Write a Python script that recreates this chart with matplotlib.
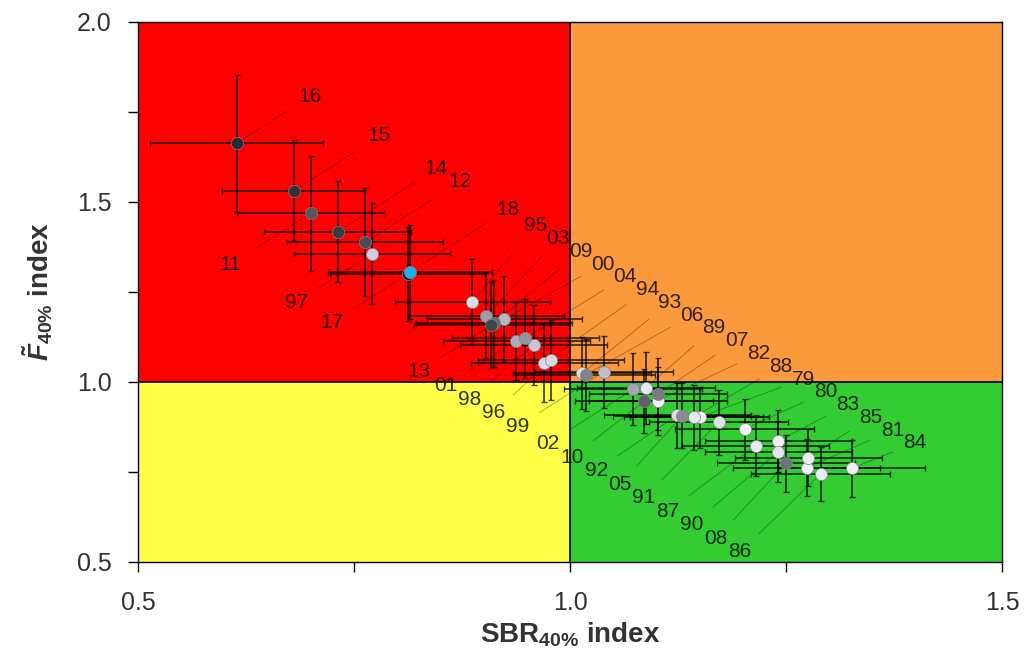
import numpy as np
import matplotlib
matplotlib.use("Agg")
import matplotlib.pyplot as plt
from matplotlib.patches import Rectangle

plt.rcParams['font.family'] = ['Liberation Sans', 'DejaVu Sans']
plt.rcParams['mathtext.fontset'] = 'custom'
plt.rcParams['mathtext.rm'] = 'Liberation Sans:bold'
plt.rcParams['mathtext.bf'] = 'Liberation Sans:bold'
plt.rcParams['mathtext.it'] = 'Liberation Sans:bold:italic'

# ---------------- data ----------------
years = list(range(1979, 2019))
labels = [f"{y % 100:02d}" for y in years]
sbr = [1.150, 1.202, 1.274, 1.102, 1.241, 1.326, 1.276, 1.290, 1.215, 1.143,
       1.088, 1.241, 1.172, 1.124, 1.014, 0.970, 0.887, 0.978, 0.771, 0.958,
       1.039, 0.924, 0.938, 1.073, 0.903, 0.948, 1.130, 1.018, 1.102, 1.250,
       0.912, 1.086, 0.700, 0.763, 0.909, 0.731, 0.680, 0.614, 0.812, 0.815]
fidx = [0.902, 0.869, 0.762, 0.948, 0.836, 0.760, 0.790, 0.744, 0.823, 0.902,
        0.984, 0.806, 0.888, 0.908, 1.024, 1.054, 1.223, 1.061, 1.356, 1.103,
        1.029, 1.175, 1.115, 0.980, 1.183, 1.121, 0.906, 1.020, 0.967, 0.774,
        1.163, 0.947, 1.469, 1.388, 1.158, 1.418, 1.531, 1.663, 1.300, 1.306]
sbr_err = [0.080, 0.080, 0.085, 0.080, 0.085, 0.085, 0.085, 0.080, 0.085, 0.080,
           0.080, 0.085, 0.080, 0.085, 0.080, 0.085, 0.090, 0.085, 0.090, 0.085,
           0.080, 0.090, 0.085, 0.080, 0.090, 0.085, 0.080, 0.080, 0.080, 0.080,
           0.090, 0.080, 0.085, 0.090, 0.090, 0.085, 0.083, 0.100, 0.090, 0.095]
f_err = [0.085, 0.085, 0.080, 0.095, 0.085, 0.080, 0.080, 0.075, 0.085, 0.090,
         0.100, 0.085, 0.090, 0.090, 0.100, 0.110, 0.120, 0.110, 0.140, 0.110,
         0.100, 0.120, 0.110, 0.100, 0.120, 0.110, 0.090, 0.100, 0.100, 0.080,
         0.120, 0.090, 0.160, 0.150, 0.120, 0.140, 0.140, 0.190, 0.130, 0.130]
upper_labels = ["16", "15", "14", "12", "18", "95", "03", "00", "09", "04", "94",
                "06", "93", "89", "07", "82", "88", "79", "80", "83", "85", "81", "84"]
x_ticks = [0.5, 1.0, 1.5]
y_ticks = [0.5, 1.0, 1.5, 2.0]

# ---------------- figure ----------------
fig = plt.figure(figsize=(10.24, 6.58), dpi=100)
ax = fig.add_axes([0.1348, 0.1459, 0.8437, 0.8207])
ax.set_xlim(0.5, 1.5)
ax.set_ylim(0.5, 2.0)

# quadrant backgrounds
ax.add_patch(Rectangle((0.5, 1.0), 0.5, 1.0, color='#FF0000', zorder=0, lw=0))
ax.add_patch(Rectangle((1.0, 1.0), 0.5, 1.0, color='#FA9A3C', zorder=0, lw=0))
ax.add_patch(Rectangle((0.5, 0.5), 0.5, 0.5, color='#FFFF48', zorder=0, lw=0))
ax.add_patch(Rectangle((1.0, 0.5), 0.5, 0.5, color='#33CC33', zorder=0, lw=0))
ax.axvline(1.0, color='black', lw=1.2, zorder=1)
ax.axhline(1.0, color='black', lw=1.2, zorder=1)


def shade(y):
    if y == 2018:
        return '#1CB0F0'
    g = float(np.interp(y, [1979, 1996, 2005, 2017], [0.97, 0.85, 0.55, 0.12]))
    return (g, g, min(1.0, g + 0.04))


# error bars
ax.errorbar(sbr, fidx, xerr=sbr_err, yerr=f_err, fmt='none', ecolor='black',
            elinewidth=1.3, capsize=2, capthick=1.0, alpha=0.72, zorder=3)

# label placement along two chains (leader lines with a common slope)
k = 1.536
chains = {'U': (0.699, 1.794, -1.376, 0.0258, 'sym'),
          'L': (0.612, 1.319, -1.352, 0.0278, 'fwd')}
groups = {'U': [], 'L': []}
for i, lab in enumerate(labels):
    side = 'U' if lab in upper_labels else 'L'
    x0, y0, m, gap, mode = chains[side]
    xi = (y0 - m * x0 - fidx[i] + k * sbr[i]) / (k - m)
    groups[side].append([xi, i])

for side, items in groups.items():
    x0, y0, m, gap, mode = chains[side]
    items.sort()
    xs = np.array([it[0] for it in items], dtype=float)
    if mode == 'fwd':
        for j in range(1, len(xs)):
            xs[j] = max(xs[j], xs[j - 1] + gap)
    else:
        for _ in range(500):
            moved = False
            for j in range(len(xs) - 1):
                d = xs[j + 1] - xs[j]
                if d < gap:
                    s = (gap - d) / 2
                    xs[j] -= s
                    xs[j + 1] += s
                    moved = True
            if not moved:
                break
    for xl, it in zip(xs, items):
        i = it[1]
        yl = y0 + m * (xl - x0)
        ax.annotate(labels[i], xy=(sbr[i], fidx[i]), xytext=(xl, yl),
                    ha='center', va='center', fontsize=15, color='black', alpha=0.8,
                    zorder=2,
                    arrowprops=dict(arrowstyle='-', color='black', lw=0.6, alpha=0.35,
                                    shrinkA=6, shrinkB=3))

# points
for i, y in enumerate(years):
    ax.plot(sbr[i], fidx[i], 'o', ms=8.8, mfc=shade(y), mec=(0.5, 0.5, 0.55),
            mew=0.5, zorder=5 if y != 2018 else 6)

# axes styling
ax.set_xticks(x_ticks)
ax.set_yticks(y_ticks)
ax.set_xticks([0.75, 1.25], minor=True)
ax.set_yticks([0.75, 1.25, 1.75], minor=True)
ax.set_xticklabels([f"{v:.1f}" for v in x_ticks])
ax.set_yticklabels([f"{v:.1f}" for v in y_ticks])
ax.tick_params(which='both', direction='out', length=7, width=1, colors='black',
               labelsize=18, labelcolor='#333333')
ax.tick_params(axis='y', pad=12)
ax.tick_params(axis='x', pad=14)
for s in ax.spines.values():
    s.set_linewidth(1.0)
    s.set_color('black')

ax.set_xlabel(r'SBR$_{\mathregular{40\%}}$ index', fontsize=20, fontweight='bold',
              color='#333333', labelpad=4)
ax.set_ylabel(r'$\tilde{F}_{\mathregular{40\%}}$ index', fontsize=20, fontweight='bold',
              color='#333333', labelpad=16)

fig.savefig('out.png', dpi=100)
